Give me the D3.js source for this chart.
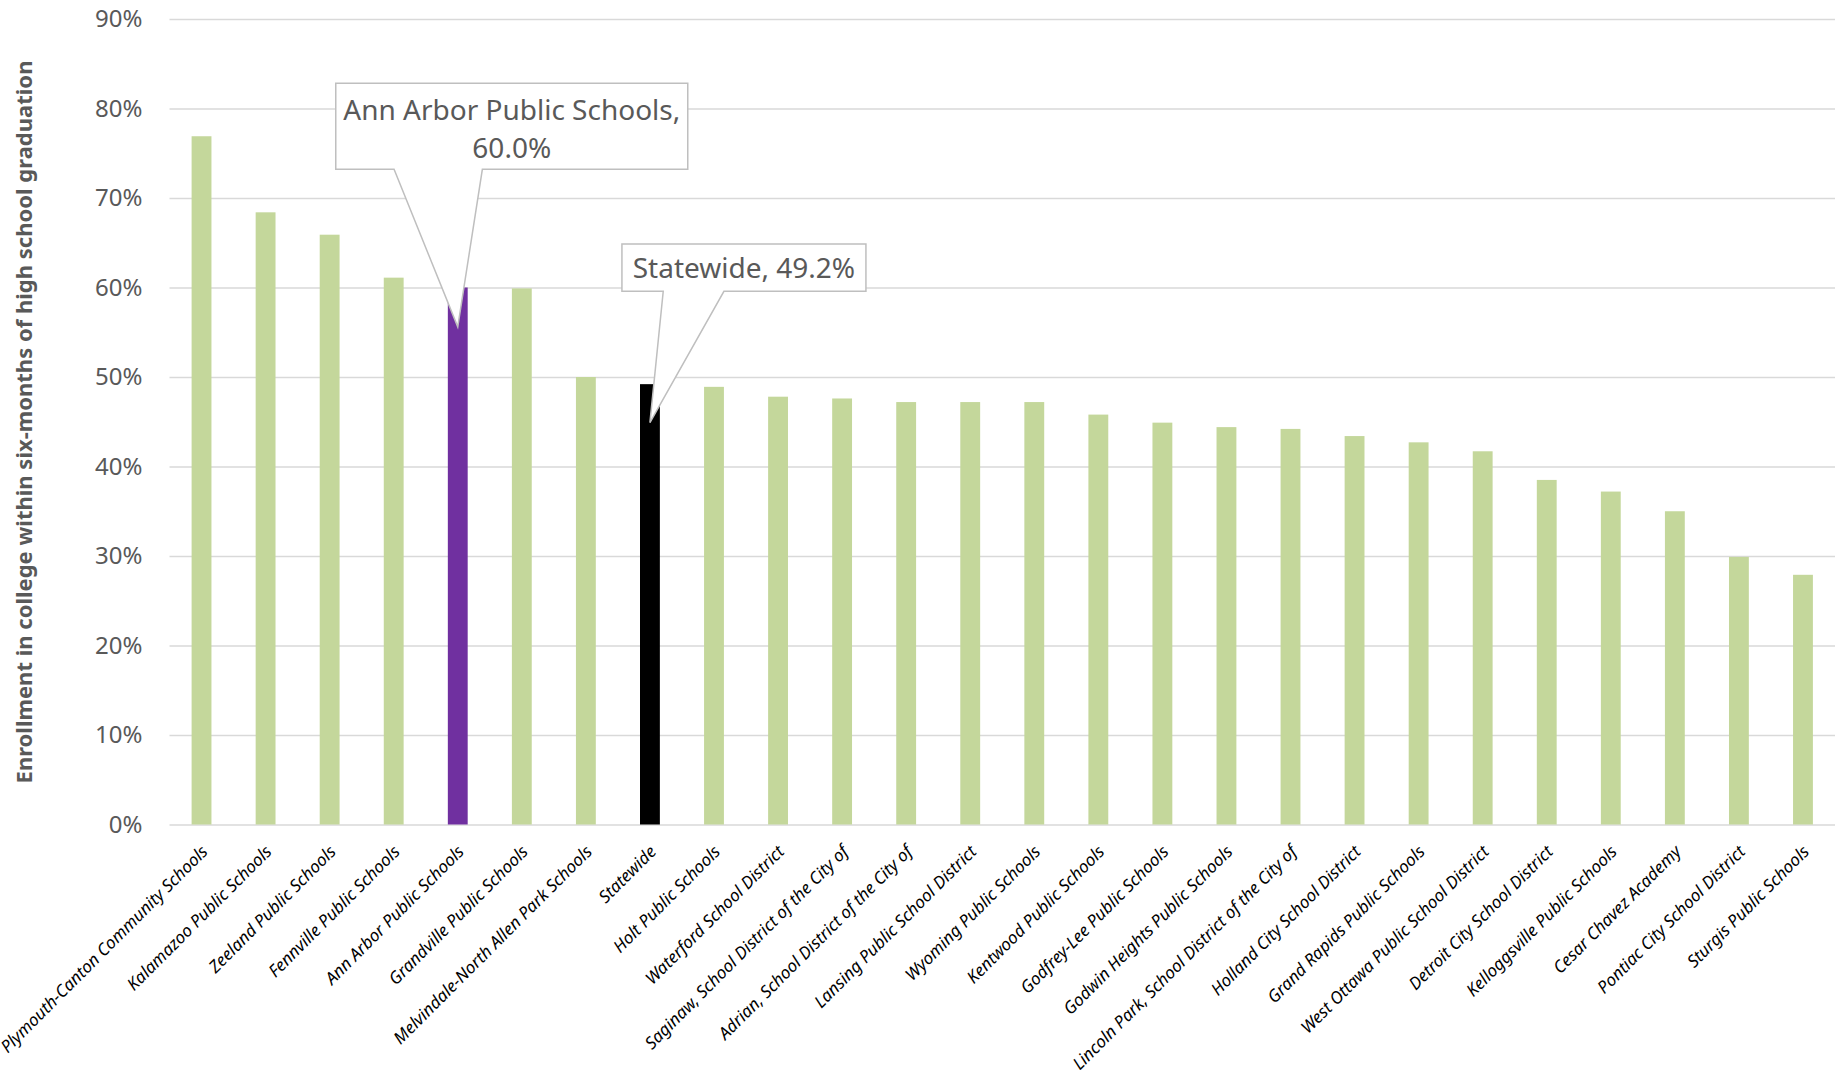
<!DOCTYPE html>
<html>
<head>
<meta charset="utf-8">
<script src="https://cdn.jsdelivr.net/npm/d3@7"></script>
<style>
  html, body { margin: 0; padding: 0; background: #fff; }
  svg { display: block; }
  text { font-family: "Noto Sans", "Open Sans", sans-serif; }
</style>
</head>
<body>
<svg id="chart" width="1835" height="1070"></svg>
<script>
// ---- data ----
const categories = [
  "Plymouth-Canton Community Schools",
  "Kalamazoo Public Schools",
  "Zeeland Public Schools",
  "Fennville Public Schools",
  "Ann Arbor Public Schools",
  "Grandville Public Schools",
  "Melvindale-North Allen Park Schools",
  "Statewide",
  "Holt Public Schools",
  "Waterford School District",
  "Saginaw, School District of the City of",
  "Adrian, School District of the City of",
  "Lansing Public School District",
  "Wyoming Public Schools",
  "Kentwood Public Schools",
  "Godfrey-Lee Public Schools",
  "Godwin Heights Public Schools",
  "Lincoln Park, School District of the City of",
  "Holland City School District",
  "Grand Rapids Public Schools",
  "West Ottawa Public School District",
  "Detroit City School District",
  "Kelloggsville Public Schools",
  "Cesar Chavez Academy",
  "Pontiac City School District",
  "Sturgis Public Schools"
];
const values = [76.9, 68.4, 65.9, 61.1, 60.0, 59.9, 50.0, 49.2, 48.9, 47.8, 47.6, 47.2, 47.2, 47.2,
                45.8, 44.9, 44.4, 44.2, 43.4, 42.7, 41.7, 38.5, 37.2, 35.0, 29.9, 27.9];
const yTicks = [0, 10, 20, 30, 40, 50, 60, 70, 80, 90];
const yTickLabels = ["0%", "10%", "20%", "30%", "40%", "50%", "60%", "70%", "80%", "90%"];
const yTitle = "Enrollment in college within six-months of high school graduation";
const calloutCategories = ["Ann Arbor Public Schools", "Statewide"];
const calloutLines = [["Ann Arbor Public Schools,", "60.0%"], ["Statewide, 49.2%"]];

// ---- styles / layout ----
const W = 1835, H = 1070;
const plot = { left: 169.5, right: 1835, top: 19, bottom: 824.5 };
const defaultColor = "#C4D79B";
const barColorFor = { "Ann Arbor Public Schools": "#7030A0", "Statewide": "#000000" };
const textGray = "#595959";
const gridGray = "#D9D9D9";
// callout geometry (pixel offsets relative to the bar's centre / value scale)
const calloutLayout = [
  { dx: 54, top: 83.3, w: 352, h: 86, base: [-63.7, 24.6], tipValue: 55.6, baselines: [120, 158] },
  { dx: 94, top: 244, w: 244, h: 47.3, base: [13.3, 74], tipValue: 44.9, baselines: [278] }
];

const svg = d3.select("#chart");

const x = d3.scaleBand()
  .domain(categories)
  .range([plot.left, plot.right])
  .paddingInner(0.69)
  .paddingOuter(0.345);

const y = d3.scaleLinear().domain([0, 90]).range([plot.bottom, plot.top]);

// gridlines + y tick labels
const yAxis = svg.append("g")
  .attr("transform", `translate(${plot.left},0)`)
  .call(d3.axisLeft(y)
    .tickValues(yTicks)
    .tickFormat((d, i) => yTickLabels[i])
    .tickSize(-(plot.right - plot.left))
    .tickPadding(27));
yAxis.select(".domain").remove();
yAxis.selectAll(".tick line").attr("stroke", gridGray).attr("stroke-width", 1.3);
yAxis.selectAll(".tick text")
  .attr("fill", textGray)
  .style("font-size", "24px")
  .style("font-family", '"Noto Sans", sans-serif');

// bars
svg.append("g").selectAll("rect")
  .data(categories)
  .join("rect")
  .attr("x", d => x(d))
  .attr("width", x.bandwidth())
  .attr("y", (d, i) => y(values[i]))
  .attr("height", (d, i) => y(0) - y(values[i]))
  .attr("fill", d => barColorFor[d] || defaultColor);

// x axis labels
const xAxis = svg.append("g")
  .attr("transform", `translate(0,${plot.bottom})`)
  .call(d3.axisBottom(x).tickSize(0).tickPadding(0));
xAxis.select(".domain").remove();
xAxis.selectAll(".tick text")
  .attr("fill", "#000")
  .attr("text-anchor", "end")
  .attr("y", 0)
  .attr("dy", "0.35em")
  .attr("transform", "translate(3,24) rotate(-45)")
  .style("font-size", "17px")
  .style("font-style", "italic")
  .style("font-family", '"Noto Sans", sans-serif');

// y axis title
const title = svg.append("text")
  .attr("transform", `translate(32,422) rotate(-90)`)
  .attr("text-anchor", "middle")
  .attr("fill", textGray)
  .style("font-weight", "bold")
  .style("font-size", "20px")
  .text(yTitle);
const tl = title.node().getComputedTextLength();
title.style("font-size", (20 * 723 / tl).toFixed(2) + "px");

// callouts
calloutCategories.forEach((cat, k) => {
  const L = calloutLayout[k];
  const cx = x(cat) + x.bandwidth() / 2;
  const bx = cx + L.dx;
  const x0 = bx - L.w / 2, x1 = bx + L.w / 2, y0 = L.top, y1 = L.top + L.h;
  const tip = [cx, y(L.tipValue)];
  const p = d3.path();
  p.moveTo(x0, y0); p.lineTo(x1, y0); p.lineTo(x1, y1);
  p.lineTo(cx + L.base[1], y1); p.lineTo(tip[0], tip[1]); p.lineTo(cx + L.base[0], y1);
  p.lineTo(x0, y1); p.closePath();
  svg.append("path").attr("d", p.toString())
    .attr("fill", "#fff").attr("stroke", "#BFBFBF").attr("stroke-width", 1.5);
  calloutLines[k].forEach((line, j) => {
    svg.append("text")
      .attr("x", bx).attr("y", L.baselines[j])
      .attr("text-anchor", "middle")
      .attr("fill", textGray)
      .style("font-size", "28px")
      .text(line);
  });
});
</script>
</body>
</html>
